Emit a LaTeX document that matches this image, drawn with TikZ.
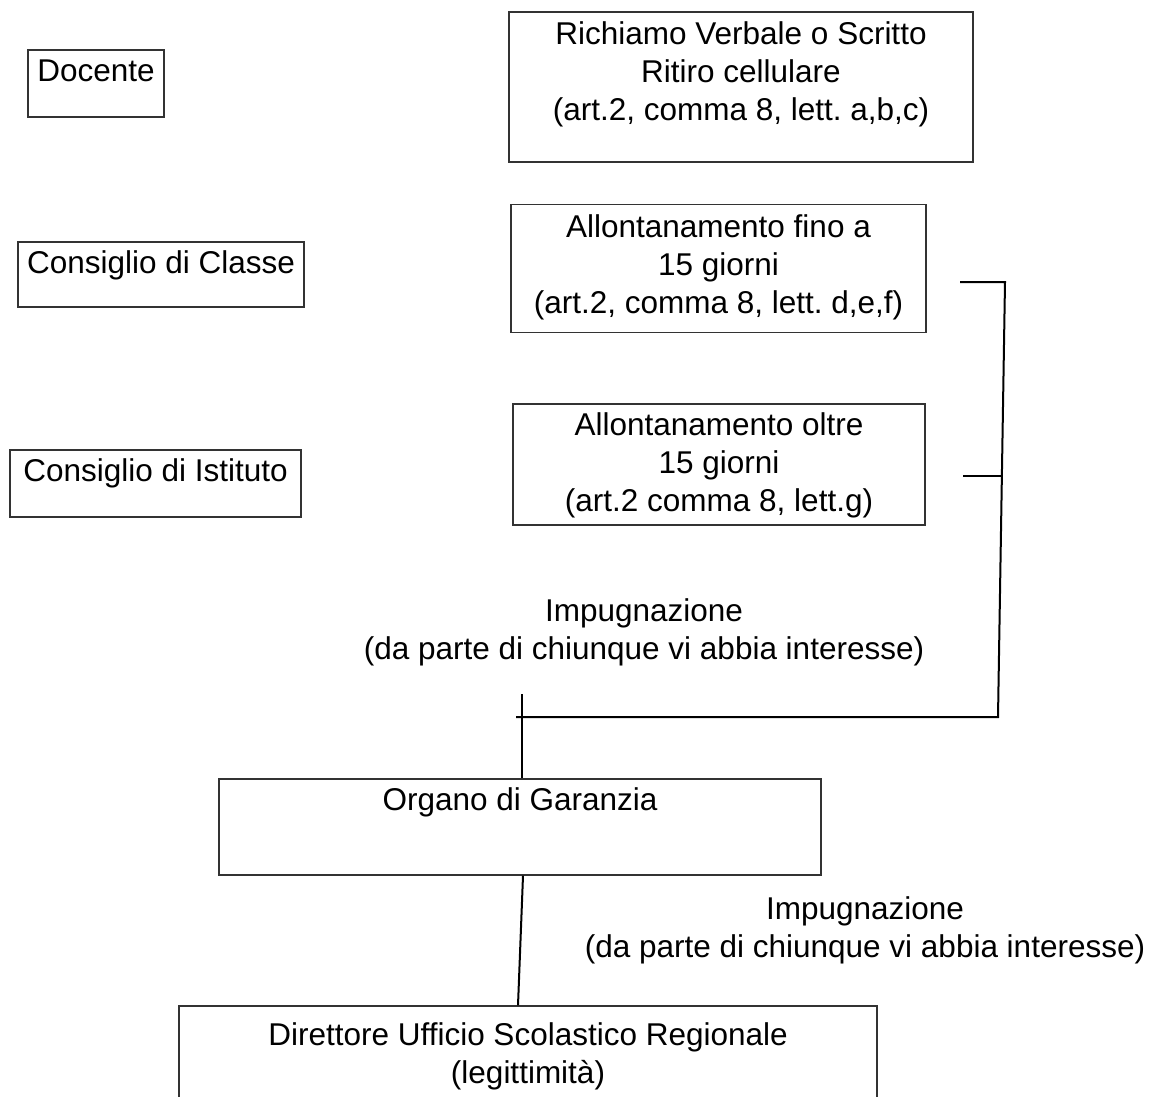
\documentclass[tikz,border=0pt]{standalone}
\usepackage{fontspec}
\setmainfont{Liberation Sans}
\usetikzlibrary{positioning}
\frenchspacing

\begin{document}
\begin{tikzpicture}[x=0.5pt, y=-0.5pt]
    \tikzstyle{box_style}=[rectangle, draw=black!80, line width=0.7pt, inner sep=0pt]
    \tikzstyle{text_style}=[inner sep=0pt, align=center, font=\fontsize{15.75pt}{19pt}\selectfont]
    \tikzstyle{line_style}=[draw=black, line width=1pt]

    \useasboundingbox (0, 0) rectangle (1151, 1097);

    % organi (left column)
    \draw node at (96, 83.5) [box_style, minimum width=68pt, minimum height=33.5pt] (box_docente) {};
    \draw node at (161, 274.5) [box_style, minimum width=143pt, minimum height=32.5pt] (box_classe) {};
    \draw node at (155.5, 483.5) [box_style, minimum width=145.5pt, minimum height=33.5pt] (box_istituto) {};
    \node [text_style, below=5pt of box_docente.north] (text_docente) {Docente};
    \node [text_style, below=4.5pt of box_classe.north] (text_classe) {Consiglio di Classe};
    \node [text_style, below=4.5pt of box_istituto.north] (text_istituto) {Consiglio di Istituto};

    % sanzioni (right column)
    \draw node at (741, 87) [box_style, minimum width=232pt, minimum height=75pt] (box_richiamo) {};
    \draw node at (718.5, 268.5) [box_style, minimum width=207.5pt, minimum height=64pt] (box_fino) {};
    \draw node at (719, 464.5) [box_style, minimum width=206pt, minimum height=60.5pt] (box_oltre) {};
    \node [text_style, below=5pt of box_richiamo.north] (text_richiamo) {Richiamo Verbale o Scritto\\Ritiro cellulare\\(art.2, comma 8, lett. a,b,c)};
    \node [text_style, below=5pt of box_fino.north] (text_fino) {Allontanamento fino a\\15 giorni\\(art.2, comma 8, lett. d,e,f)};
    \node [text_style, below=4.5pt of box_oltre.north] (text_oltre) {Allontanamento oltre\\15 giorni\\(art.2 comma 8, lett.g)};

    % impugnazione
    \draw node at (644, 598.5) [text_style, anchor=north] (impug_text_1) {Impugnazione\\(da parte di chiunque vi abbia interesse)};
    \draw node at (865, 896.5) [text_style, anchor=north] (impug_text_2) {Impugnazione\\(da parte di chiunque vi abbia interesse)};

    % organo di garanzia, direttore
    \draw node at (520, 827) [box_style, minimum width=301pt, minimum height=48pt] (box_organo) {};
    \draw node at (528, 1086) [box_style, minimum width=349pt, minimum height=80pt] (box_direttore) {};
    \node [text_style, below=4.5pt of box_organo.north] (text_organo) {Organo di Garanzia};
    \node [text_style, below=8.5pt of box_direttore.north] (text_direttore) {Direttore Ufficio Scolastico Regionale\\(legittimit\`a)};

    % bracket
    \coordinate (br_fino_l) at (960, 282);
    \coordinate (br_fino_r) at (1005, 282);
    \coordinate (br_oltre_l) at (963, 476);
    \coordinate (br_oltre_r) at (1002, 476);
    \coordinate (br_corner) at (998, 717);
    \coordinate (br_impug_l) at (516, 717);
    \coordinate (organo_in) at (522, 694);

    % connect: bracket -> organo
    \draw[line_style] (br_fino_l) -- (br_fino_r) -- (br_corner) -- (br_impug_l);
    \path[line_style] (br_oltre_l) edge node[] {} (br_oltre_r);
    \path[line_style] (organo_in) edge node[] {} (organo_in |- box_organo.north);

    % connect: organo -> direttore
    \path[line_style] ([xshift=1.5pt]box_organo.south) edge node[] {} ([xshift=-5pt]box_direttore.north);

\end{tikzpicture}
\end{document}
